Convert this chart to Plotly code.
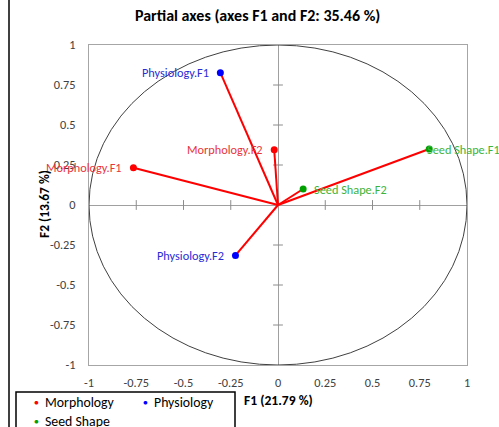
import plotly.graph_objects as go

# Partial axes of the MFA: loadings of each group's own factors on F1/F2
labels = ["Morphology.F1", "Morphology.F2", "Physiology.F1",
          "Physiology.F2", "Seed Shape.F1", "Seed Shape.F2"]
groups_of_points = ["Morphology", "Morphology", "Physiology",
                    "Physiology", "Seed Shape", "Seed Shape"]
f1 = [-0.765, -0.02, -0.305, -0.225, 0.80, 0.133]
f2 = [0.233, 0.345, 0.827, -0.315, 0.35, 0.10]

groups = ["Morphology", "Physiology", "Seed Shape"]
tick_vals = [-1, -0.75, -0.5, -0.25, 0, 0.25, 0.5, 0.75, 1]
tick_text = ["-1", "-0.75", "-0.5", "-0.25", "0", "0.25", "0.5", "0.75", "1"]

title_text = "Partial axes (axes F1 and F2: 35.46 %)"
x_title = "F1 (21.79 %)"
y_title = "F2 (13.67 %)"

marker_colors = {"Morphology": "#ff0000", "Physiology": "#0000ff", "Seed Shape": "#00a000"}
label_colors = {"Morphology": "#e8353c", "Physiology": "#2b2bd6", "Seed Shape": "#3cb43c"}
label_side = {"Morphology": "left", "Physiology": "left", "Seed Shape": "right"}

FONT = "Carlito, Calibri, 'Liberation Sans', Arial, sans-serif"
W, H = 499, 427
L, R, T, B = 89, 32, 45, 62
PW, PH = W - L - R, H - T - B


def px_x(px):
    return (px - L) / PW


def px_y(py):
    return (H - B - py) / PH


fig = go.Figure()

# small cross ticks sitting on the zero lines
inner = [v for v in tick_vals if v not in (0, -1, 1)]
fig.add_trace(go.Scatter(
    x=inner, y=[0] * len(inner), mode="markers", hoverinfo="skip", showlegend=False,
    marker=dict(symbol="line-ns", size=7, line=dict(color="#8c8c8c", width=1))))
fig.add_trace(go.Scatter(
    x=[0] * len(inner), y=inner, mode="markers", hoverinfo="skip", showlegend=False,
    marker=dict(symbol="line-ew", size=7, line=dict(color="#8c8c8c", width=1))))

# vectors from the origin
vx, vy = [], []
for a, b in zip(f1, f2):
    vx += [0, a, None]
    vy += [0, b, None]
fig.add_trace(go.Scatter(x=vx, y=vy, mode="lines", showlegend=False, hoverinfo="skip",
                         line=dict(color="#ff0000", width=2)))

# end points, one trace per group
for g in groups:
    xs = [a for a, gg in zip(f1, groups_of_points) if gg == g]
    ys = [b for b, gg in zip(f2, groups_of_points) if gg == g]
    fig.add_trace(go.Scatter(x=xs, y=ys, mode="markers", name=g, showlegend=False,
                             marker=dict(color=marker_colors[g], size=7)))

annotations = []
for lab, g, a, b in zip(labels, groups_of_points, f1, f2):
    side = label_side[g]
    if side == "left":
        anchor, shift = "right", -9
    else:
        anchor, shift = "left", (9 if b < 0.2 else -4)
    annotations.append(dict(x=a, y=b, xref="x", yref="y", text=lab, showarrow=False,
                            xanchor=anchor, yanchor="middle", xshift=shift,
                            font=dict(family=FONT, size=12.3, color=label_colors[g])))

# titles
annotations.append(dict(x=px_x(257), y=px_y(15), xref="paper", yref="paper",
                        text="<b>" + title_text + "</b>", showarrow=False,
                        xanchor="center", yanchor="middle",
                        font=dict(family=FONT, size=16, color="#000000")))
annotations.append(dict(x=px_x(278), y=px_y(400), xref="paper", yref="paper",
                        text="<b>" + x_title + "</b>", showarrow=False,
                        xanchor="center", yanchor="middle",
                        font=dict(family=FONT, size=13.6, color="#000000")))
annotations.append(dict(x=px_x(44), y=px_y(204), xref="paper", yref="paper",
                        text="<b>" + y_title + "</b>", showarrow=False, textangle=-90,
                        xanchor="center", yanchor="middle",
                        font=dict(family=FONT, size=13.4, color="#000000")))

# legend drawn in a boxed area below the plot
legend_pos = [(36.5, 402), (145.5, 402), (36.5, 421)]
for g, (bx, by) in zip(groups, legend_pos):
    annotations.append(dict(x=px_x(bx), y=px_y(by), xref="paper", yref="paper",
                            text="●", showarrow=False, xanchor="center", yanchor="middle",
                            font=dict(family=FONT, size=8, color=marker_colors[g])))
    annotations.append(dict(x=px_x(bx + 6.5), y=px_y(by), xref="paper", yref="paper",
                            text=g, showarrow=False, xanchor="left", yanchor="middle",
                            font=dict(family=FONT, size=13.8, color="#000000")))

shapes = [
    # unit correlation circle
    dict(type="circle", xref="x", yref="y", x0=-1, y0=-1, x1=1, y1=1,
         line=dict(color="#404040", width=1), layer="above"),
    # legend frame
    dict(type="rect", xref="paper", yref="paper", x0=px_x(16), x1=px_x(235),
         y0=px_y(440), y1=px_y(392), line=dict(color="#000000", width=1.5)),
    # outer chart border on the left
    dict(type="line", xref="paper", yref="paper", x0=px_x(9), x1=px_x(9),
         y0=px_y(-5), y1=px_y(440), line=dict(color="#000000", width=1.5)),
]

axis_common = dict(range=[-1, 1], tickvals=tick_vals, ticktext=tick_text,
                   showgrid=False, zeroline=True, zerolinecolor="#a0a0a0", zerolinewidth=1,
                   showline=True, linecolor="#a6a6a6", linewidth=1, mirror=True,
                   ticks="", tickfont=dict(family=FONT, size=12.3, color="#404040"),
                   fixedrange=True)

fig.update_layout(
    width=W, height=H, margin=dict(l=L, r=R, t=T, b=B, autoexpand=False),
    paper_bgcolor="#ffffff", plot_bgcolor="#ffffff",
    xaxis=dict(axis_common, ticklabelstandoff=6),
    yaxis=dict(axis_common, ticklabelstandoff=10),
    annotations=annotations, shapes=shapes, showlegend=False,
)

fig.write_html("out.html")
